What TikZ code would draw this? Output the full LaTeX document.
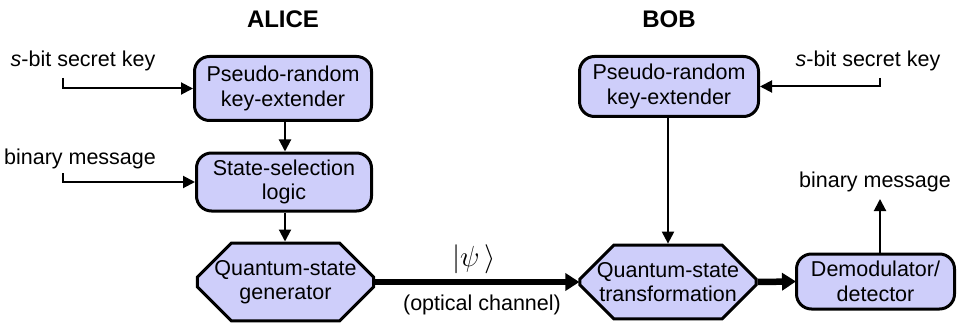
\documentclass[tikz,border=0pt]{standalone}
\usepackage{fontspec}
\setmainfont{Liberation Sans}
\usetikzlibrary{shapes.misc,arrows.meta}
\definecolor{boxfill}{RGB}{206,206,250}
\tikzset{
  rbox/.style={draw=black, line width=3pt, fill=boxfill, rounded corners=15pt, inner sep=0pt, align=center, font=\fontsize{21.5}{24.5}\selectfont},
  obox/.style={draw=black, line width=3pt, fill=boxfill, chamfered rectangle, chamfered rectangle xsep=17pt, chamfered rectangle ysep=17pt, inner sep=0pt, align=center, font=\fontsize{21.5}{24.5}\selectfont},
  lbl/.style={font=\fontsize{21.5}{24.5}\selectfont, inner sep=0pt},
  ttl/.style={font=\bfseries\fontsize{24}{28}\selectfont, inner sep=0pt},
  thin/.style={line width=2pt, -{Triangle[length=12pt,width=12pt]}},
  thick/.style={line width=6.5pt, -{Triangle[length=14pt,width=17pt]}, shorten >=-1pt},
}
\begin{document}
\begin{tikzpicture}[x=1pt,y=-1pt]
\useasboundingbox (0,0) rectangle (958,326);
% titles
\node[ttl] (alice) at (283,19) {ALICE};
\node[ttl] (bob) at (669,19) {BOB};
% Alice boxes
\node[rbox, minimum width=177pt, minimum height=64pt] (a1) at (283,88.5) {Pseudo-random\\key-extender};
\node[rbox, minimum width=175pt, minimum height=58pt] (a2) at (284,182) {State-selection\\logic};
\node[obox, minimum width=166pt, minimum height=67pt] (a3) at (285.5,282) {Quantum-state\\generator};
% Bob boxes
\node[rbox, minimum width=179pt, minimum height=60pt] (b1) at (669,86.5) {Pseudo-random\\key-extender};
\node[obox, minimum width=167pt, minimum height=67pt] (b2) at (668,282) {Quantum-state\\transformation};
\node[rbox, minimum width=158pt, minimum height=55pt] (b3) at (875.5,281.5) {Demodulator/\\detector};
% labels
\node[lbl] (ka) at (83,61) {\textit{s}-bit secret key};
\node[lbl] (ma) at (80,159) {binary message};
\node[lbl] (kb) at (868,61) {\textit{s}-bit secret key};
\node[lbl] (mb) at (875,182) {binary message};
\node[inner sep=0pt, font=\fontsize{20}{24}\selectfont, transform shape, scale=1.4] (psi) at (474,259) {$|\psi\,\rangle$};
\node[lbl] (opt) at (482,305) {(optical channel)};
% free ends
\coordinate (kat) at (63,78);
\coordinate (mat) at (63,173);
\coordinate (kbt) at (880,78);
\coordinate (mbt) at (880,199);
% connectors
\draw[thin] (kat) |- (a1.west);
\draw[thin] (mat) |- (a2.west);
\draw[thin] (kbt) |- (b1.east);
\draw[thin] (a1.south -| 285,0) -- (a2.north -| 285,0);
\draw[thin] (a2.south -| 285,0) -- (a3.north -| 285,0);
\draw[thin] (b1.south -| 668,0) -- (b2.north);
\draw[thin] (b3.north -| 880,0) -- (mbt);
\draw[thick] (a3.east) -- (b2.west);
\draw[thick] (b2.east) -- (b3.west);
\end{tikzpicture}
\end{document}
